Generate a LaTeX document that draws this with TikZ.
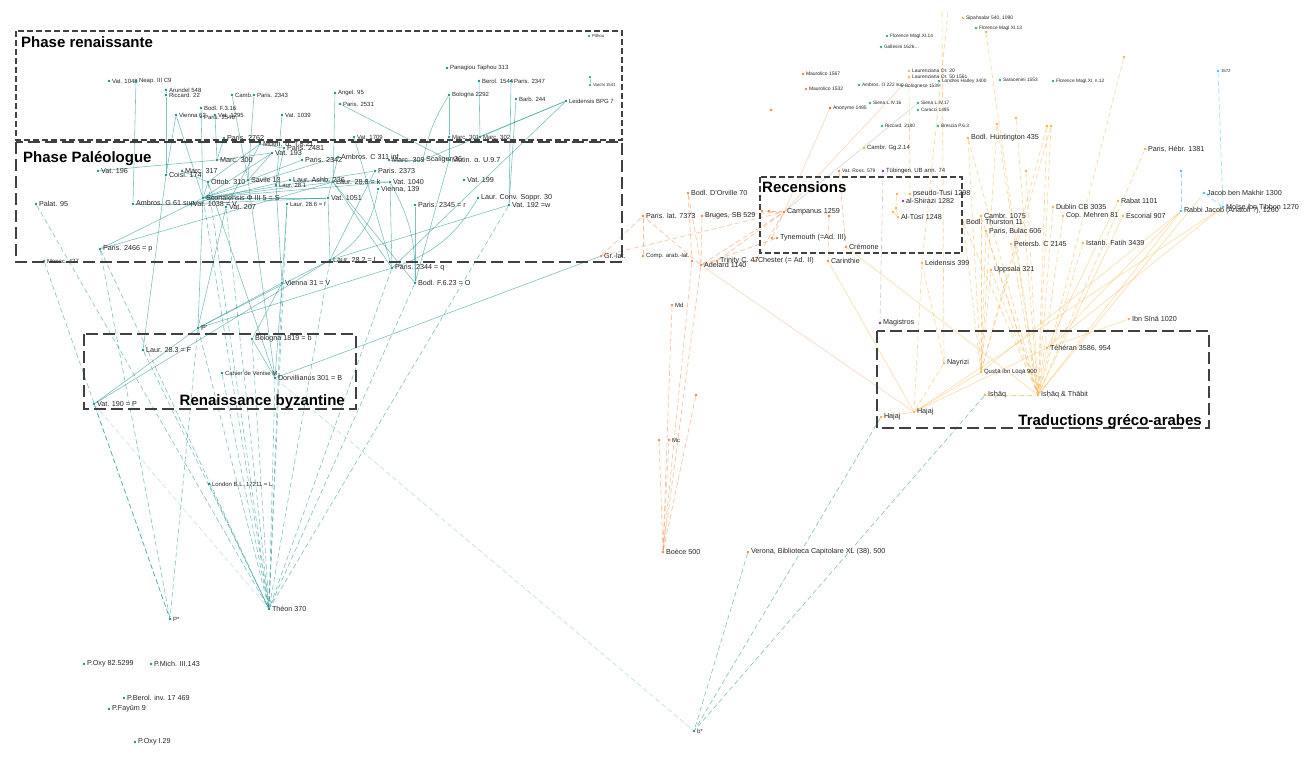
\documentclass[tikz,border=0pt]{standalone}
\usepackage{fontspec}
\setmainfont{Liberation Sans}
\newfontfamily\dv{DejaVu Sans}
\usetikzlibrary{backgrounds}

\definecolor{tl}{RGB}{24,140,140}
\definecolor{lat}{RGB}{242,132,66}
\definecolor{amb}{RGB}{247,176,64}
\definecolor{grn}{RGB}{52,176,110}
\definecolor{heb}{RGB}{60,192,238}
\definecolor{pur}{RGB}{140,40,200}
\definecolor{rouge}{RGB}{232,86,44}

\tikzset{
	ms/.style={circle, fill=#1, inner sep=0pt, minimum size=2.8pt},
	lab/.style={font=\fontsize{#1}{#1}\selectfont, text=black!85, inner sep=1.2pt},
	e/.style={draw=#1, line width=0.6pt, opacity=0.55},
	ed/.style={e=#1, dash pattern=on 5pt off 3pt},
	cadre/.style={draw=black!75, line width=1.1pt},
	titre/.style={font=\bfseries\fontsize{15}{15}\selectfont, inner sep=1pt}
}

\begin{document}
\begin{tikzpicture}[x=1pt, y=-1pt]
\useasboundingbox (0,0) rectangle (1316,757);

% Tradition grecque
	\foreach \m/\x/\y/\txt in {par2762/224/138/Paris. 2762, mutinT/260/144/Mutin. α. T.8.21,
		par2481/284/148/Paris. 2481, vat193/272/153/Vat. 193, marc300/217/160/Marc. 300,
		par2342/302/160/Paris. 2342, vat196/98/171/Vat. 196, marc317/182/171/Marc. 317,
		coisl/166/175/Coisl. 174, ottob/208/182/Ottob. 310, savile/248/180/Savile 13,
		ashb/290/180/Laur. Ashb. 236, scor/203/198/Scorialensis Φ III 5 = S, palat/36/204/Palat. 95,
		ambrG/133/204/Ambros. G 61 sup., vat1038/190/204/Vat. 1038 = V, vat207/226/207/Vat. 207,
		par2466/100/249/Paris. 2466 = p, ambrC/338/157/Ambros. C 311 inf., marc309/389/160/Marc. 309,
		scal/423/160/Scaliger 36, mutinU/449/160/Mutin. α. U.9.7, par2373/375/171/Paris. 2373,
		laur288/333/182/Laur. 28.8 = k, vat1040/390/182/Vat. 1040, vien139/378/189/{Vienna, 139},
		vat199/464/180/Vat. 199, vat1051/328/198/Vat. 1051, conv/478/198/Laur. Conv. Soppr. 30,
		par2345/415/205/Paris. 2345 = r, vat192/509/205/Vat. 192 =w, laur282/330/260/Laur. 28.2 = l,
		par2344/392/268/Paris. 2344 = q, bodlF623/415/283/Bodl. F.6.23 = O, vien31/282/283/Vienna 31 = V,
		pprime/198/328/P', bol1819/252/339/Bologna 1819 = b, laur283/143/350/Laur. 28.3 = F,
		dorv/275/378/Dorvillianus 301 = B, vat190/94/404/Vat. 190 = P, theon/269/609/Théon 370,
		poxy82/84/664/P.Oxy 82.5299, pmich/151/664/P.Mich. III.143, pberol/124/698/P.Berol. inv. 17 469,
		pfayum/109/709/P.Fayûm 9, poxy29/135/742/P.Oxy I.29}
		\node[ms=tl, label={[lab=7.2]0:\txt}] (\m) at (\x,\y) {};

	\foreach \m/\x/\y/\txt in {vatA/109/81/Vat. 1048, neap/136/81/Neap. III C9, arun/166/90/Arundel 548,
		ricc/166/95/Riccard. 22, camb/232/95/Camb., par2343/254/95/Paris. 2343, bodlF316/201/108/Bodl. F.3.16,
		vien62/176/115/Vienna 62, par2548/201/117/Paris. 2548, vat1295/215/115/Vat. 1295,
		vat1039/282/115/Vat. 1039, laur281/276/185/Laur. 28.1, laur286/287/204/Laur. 28.6 = f,
		monac/44/261/Monac. 427, panag/447/68/Panagiou Taphou 313, berol/479/81/Berol. 1544,
		par2347/511/81/Paris. 2347, angel/335/93/Angel. 95, par2531/340/104/Paris. 2531,
		bol2292/449/95/Bologna 2292, barb/516/99/Barb. 244, leidB/566/101/Leidensis BPG 7,
		vat1709/354/137/Vat. 1709, marc301/449/137/Marc. 301, marc302/480/137/Marc. 302,
		cahier/222/373/Cahier de Venise M, london/209/484/London B.L. 17211 = L, pstar/170/619/P*,
		bstar/694/731/b*}
		\node[ms=tl, label={[lab=6]0:\txt}] (\m) at (\x,\y) {};

% Tradition latine
	\foreach \m/\x/\y/\txt in {grlat/601/256/Gr.-lat., parlat/643/216/Paris. lat. 7373,
		bodlDO/688/193/Bodl. D'Orville 70, bruges/702/216/{Bruges, SB 529}, camp/784/212/Campanus 1259,
		tyne/777/238/Tynemouth (=Ad. III), cremone/846/247/Crémone, adel/701/265/Adelard 1140,
		trin/717/261/Trinity C. 47, chester/755/261/Chester (= Ad. II), carin/828/261/Carinthie,
		boece/663/552/Boèce 500, verona/748/552/{Verona, Biblioteca Capitolare XL (38), 500}}
		\node[ms=lat, label={[lab=7.2]0:\txt}] (\m) at (\x,\y) {};

	\foreach \m/\x/\y/\txt in {complat/643/256/Comp. arab.-lat., md/672/305/Md, mc/669/440/Mc}
		\node[ms=lat, label={[lab=6]0:\txt}] (\m) at (\x,\y) {};

	\foreach \m/\x/\y/\txt in {maur67/803/74/Maurolico 1567, maur32/806/89/Maurolico 1532,
		vatross/839/171/Vat. Ross. 579}
		\node[ms=lat, label={[lab=5]0:\txt}] (\m) at (\x,\y) {};
	\node[ms=rouge, label={[lab=5]0:Anonyme 1495}] (anon) at (830,108) {};

	\foreach \m/\x/\y in {campA/762/211, campB/769/211, dotC/829/216, tyneA/772/238,
		adelA/692/261, mcA/659/440, mcB/696/395, dotL/771/110}
		\node[ms=lat] (\m) at (\x,\y) {};

% Tradition arabe
	\foreach \m/\x/\y/\txt in {huntA/968/138/Bodl. Huntington 435, pseudo/910/194/pseudo-Tusi 1298,
		altusi/898/217/Al-Tūsī 1248, thurst/963/222/Bodl. Thurston 11, cambr/981/216/Cambr. 1075,
		bulac/986/231/{Paris, Bulac 606}, petersb/1011/244/Petersb. C 2145, dublin/1053/207/Dublin CB 3035,
		cop/1063/216/Cop. Mehren 81, rabat/1118/201/Rabat 1101, escor/1123/216/Escorial 907,
		istanb/1083/243/Istanb. Fatih 3439, leid399/922/263/Leidensis 399, upps/991/270/Uppsala 321,
		hebr/1145/149/{Paris, Hébr. 1381}, ibnsina/1129/319/Ibn Sīnā 1020,
		teheran/1047/348/{Téhéran 3586, 954}, ishaq/985/395/Is{\dv ḥ}āq,
		ishaqT/1038/395/Is{\dv ḥ}āq \& Thābit, nayrizi/944/363/Nayrizi, hajajA/914/412/Hajaj,
		hajajB/881/417/Hajaj}
		\node[ms=amb, label={[lab=7.2]0:\txt}] (\m) at (\x,\y) {};

	\foreach \m/\x/\y/\txt in {cambGg/864/148/Cambr. Gg.2.14, qusta/981/372/Qus{\dv ṭ}ā ibn Lūqā 900}
		\node[ms=amb, label={[lab=6]0:\txt}] (\m) at (\x,\y) {};

	\foreach \m/\x/\y/\txt in {sipah/963/18/{Sipahsalar 540, 1090}, laurOr20/909/71/Laurenziana Or. 20,
		laurOr50/909/77/Laurenziana Or. 50 1561}
		\node[ms=amb, label={[lab=5]0:\txt}] (\m) at (\x,\y) {};

	\foreach \m/\x/\y in {dotF/986/32, pseudoA/897/194, tusiA/896/208, tusiB/893/212, d1/997/124,
		d2/1016/118, d3/1047/126, d4/1051/126, d5/1026/171, d6/1124/57}
		\node[ms=amb] (\m) at (\x,\y) {};
	\coordinate (topA) at (942,12);
	\coordinate (topB) at (948,12);

% Imprimes et copies italiennes
	\foreach \m/\x/\y/\txt in {florA/887/36/Florence Magl.XI.14, galles/881/47/{Gallesini 1626\ldots},
		florB/976/28/Florence Magl.XI.13, ambrO/859/85/Ambros. O 222 sup., bologn/902/86/Bolognese 1539,
		londres/939/81/Londres Harley 3400, sarac/1000/80/Saracenini 1553,
		florC/1053/81/{Florence Magl.XI, n.12}, siena16/870/103/Siena L.IV.16, siena17/918/103/Siena L.IV.17,
		caracci/918/110/Caracci 1495, ricc2180/882/126/Riccard. 2180, brescia/938/126/Brescia P.6.3}
		\node[ms=grn, label={[lab=4.8]0:\txt}] (\m) at (\x,\y) {};
	\node[ms=grn, label={[lab=4.3]0:Pithou}] (pithou) at (589,36) {};
	\node[ms=grn] (varchiA) at (590,77) {};
	\node[ms=grn, label={[lab=4.3]0:Varchi 1541}] (varchiB) at (590,85) {};

% Armenien et hebreu
	\node[ms=pur, label={[lab=6]0:{Tübingen, UB arm. 74}}] (tubing) at (883,171) {};
	\node[ms=pur, label={[lab=7.2]0:al-Shirazi 1282}] (shirazi) at (903,201) {};
	\node[ms=pur, label={[lab=7.2]0:Magistros}] (magist) at (880,323) {};
	\node[ms=heb, label={[lab=7.2]0:Jacob ben Makhir 1300}] (jacob) at (1204,193) {};
	\node[ms=heb, label={[lab=7.2]0:Moïse ibn Tibbon 1270}] (moise) at (1223,207) {};
	\node[ms=heb, label={[lab=7.2]0:{Rabbi Jacob (Anatoli ?), 1260}}] (rabbi) at (1181,211) {};
	\node[ms=heb, label={[lab=4.3]0:1572}] (b1572) at (1218,71) {};
	\node[ms=heb] (bdot) at (1181,171) {};

% Filiations
\begin{scope}[on background layer]
	\foreach \a/\b in {neap/ambrG, arun/ricc, ricc/coisl, camb/savile, par2343/savile, bodlF316/scor,
		vien62/coisl, vien62/scor, vat1295/marc300, vat1039/laur281, laur281/vien31, angel/laur288,
		par2531/mutinU, bol2292/marc301, marc301/mutinU, berol/marc302, par2347/vat192, barb/vat192,
		leidB/marc302, leidB/scal, leidB/par2344, vat1709/par2344, par2345/bodlF623, mutinU/bodlF623,
		vat192/laur282, scor/par2466, par2466/laur288, scor/ottob, scor/vat193, scor/par2342, scor/ambrC,
		scor/laur288, scor/vat1040, scor/par2373, scor/vat1051, ottob/mutinT, marc300/vat193,
		vat196/marc300, savile/vat193, laur281/par2481, vat207/mutinT, vat1038/ashb, vat1038/vat1051,
		ashb/vat1040, laur286/vien31, scor/pprime, vat207/pprime, pprime/vien31, pprime/laur282,
		pprime/par2344, vat190/pprime, vat190/laur282, laur283/coisl, dorv/vien31, dorv/savile,
		dorv/ottob, dorv/bol1819, dorv/grlat, bol1819/vien31, ambrC/vat1051, par2762/marc300,
		mutinT/par2481, marc309/scal, par2373/laur282, vat1040/par2344, vat1051/laur282,
		laur288/par2344, laur288/bodlF623, ambrG/vat1038, marc317/ottob}
		\draw[e=tl] (\a) -- (\b);
	\draw[e=tl] (conv) to[bend left=20] (par2344);
	\draw[e=tl] (vien139) to[bend left=25] (laur282);
	\draw[e=tl] (vat1040) to[bend left=15] (bodlF623);
	\draw[e=tl] (bol2292) to[bend right=10] (scal);

	\foreach \a in {palat, par2466, laur283, pprime, cahier, bol1819, dorv, vien31, laur282, par2344,
		bodlF623, vat192, london, scor, vat207, ottob, laur286}
		\draw[ed=tl] (\a) -- (theon);
	\foreach \a in {monac, vat190, par2466, pprime}
		\draw[ed=tl] (\a) -- (pstar);
	\foreach \a in {verona, hajajB, ishaq}
		\draw[ed=tl] (\a) -- (bstar);
	\draw[ed=tl, opacity=0.25] (vat190) -- (theon);
	\draw[ed=tl, opacity=0.3] (dorv) -- (bstar);

	\draw[e=grn] (varchiA) -- (varchiB);
	\draw[e=black!40, opacity=0.4] (camp) -- (siena17);

	\foreach \a/\b in {grlat/parlat, grlat/camp, parlat/complat, adel/camp, adel/bodlDO, adel/bruges,
		adel/tyne, adel/chester, adel/parlat, md/boece, mc/boece, mcA/boece, mcB/boece, adel/boece,
		adelA/boece, campA/camp, campB/camp, tyneA/tyne, tyneA/camp, dotC/carin, vatross/cremone,
		trin/camp, chester/camp, bruges/camp, bodlDO/adelA}
		\draw[ed=lat] (\a) -- (\b);
	\foreach \a/\b in {adel/hajajA, camp/anon, camp/bologn, adel/trin}
		\draw[e=lat, opacity=0.35] (\a) -- (\b);

	\foreach \a/\b in {carin/hajajA, cremone/ishaqT, rabbi/ishaqT, rabbi/teheran, jacob/ishaqT,
		moise/teheran, moise/hajajA, escor/ishaqT, rabat/teheran, qusta/hajajA, teheran/hajajA,
		rabbi/qusta, hajajB/hajajA, ibnsina/teheran}
		\draw[e=amb, opacity=0.45] (\a) -- (\b);
	\foreach \a in {cambr, bulac, petersb, dublin, cop, istanb, upps, huntA, thurst, d1, d2, d3, d4,
		d5, d6, dotF, hebr, ishaq, teheran}
		\draw[ed=amb] (\a) -- (ishaqT);
	\foreach \a in {huntA, thurst, cambr, d1, d3, d4, upps, bulac}
		\draw[ed=amb] (\a) -- (qusta);
	\foreach \a/\b in {leid399/hajajA, leid399/nayrizi, nayrizi/hajajA, laurOr50/pseudo, tusiA/altusi,
		tusiB/altusi, pseudoA/tusiA, topA/nayrizi, topB/leid399}
		\draw[ed=amb] (\a) -- (\b);

	\draw[ed=pur, opacity=0.3] (tubing) -- (magist);
	\foreach \a/\b in {b1572/moise, bdot/rabbi, jacob/moise}
		\draw[ed=heb] (\a) -- (\b);
\end{scope}

% Cadres
	\draw[cadre, dash pattern=on 6pt off 3pt] (16,31) rectangle (622,140);
	\draw[cadre, dash pattern=on 12pt off 5pt] (16,142) rectangle (622,262);
	\draw[cadre, dash pattern=on 12pt off 5pt] (84,334) rectangle (356,409);
	\draw[cadre, dash pattern=on 6pt off 3pt] (760,177) rectangle (962,253);
	\draw[cadre, dash pattern=on 12pt off 5pt] (877,331) rectangle (1209,428);

	\node[titre, anchor=north west] (tRen) at (20,35) {Phase renaissante};
	\node[titre, anchor=north west] (tPal) at (22,150) {Phase Paléologue};
	\node[titre, anchor=base east] (tByz) at (346,405) {Renaissance byzantine};
	\node[titre, anchor=north west] (tRec) at (761,180) {Recensions};
	\node[titre, anchor=base east] (tTrad) at (1203,425) {Traductions gréco-arabes};
\end{tikzpicture}
\end{document}
